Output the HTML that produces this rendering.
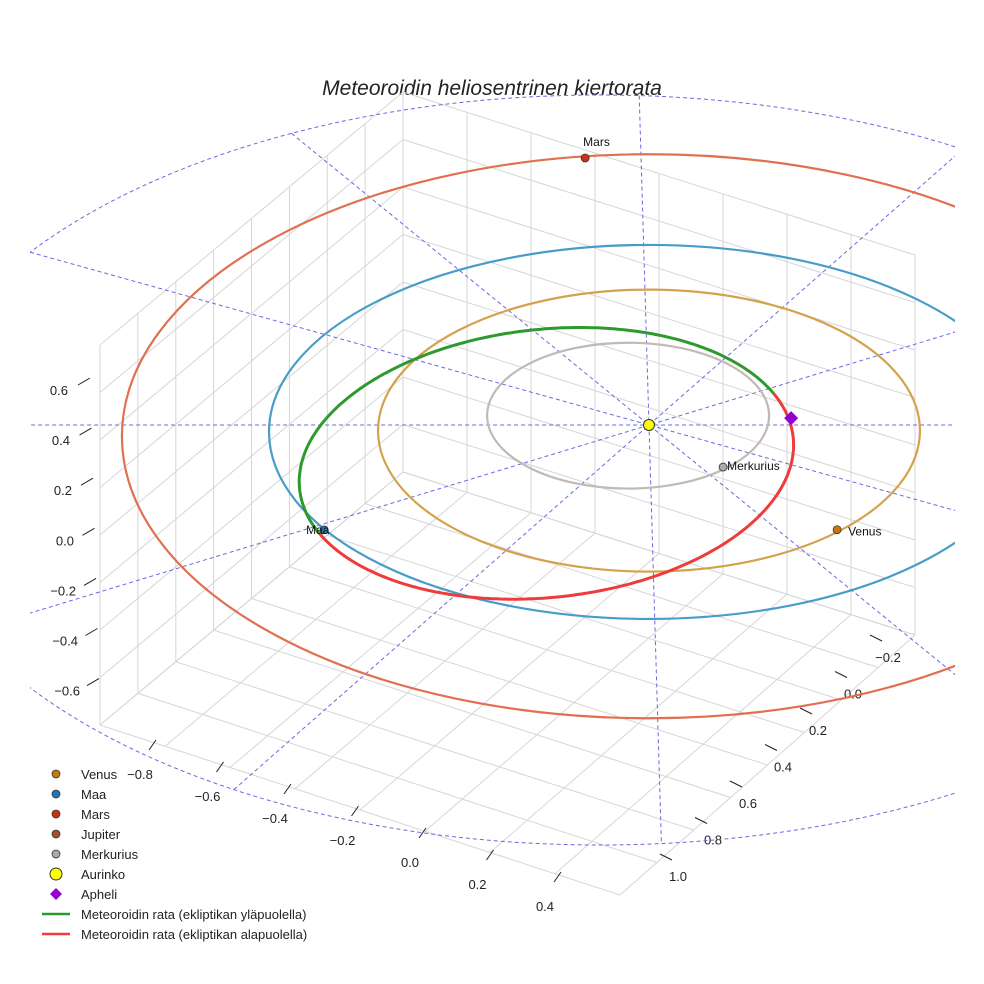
<!DOCTYPE html>
<html><head><meta charset="utf-8"><style>
html,body{margin:0;background:#fff;overflow:hidden;width:984px;height:984px}
svg{display:block;font-family:"Liberation Sans",sans-serif}
</style></head><body>
<svg id="c" width="984" height="984" viewBox="0 0 984 984">
<defs>
<clipPath id="rc"><rect x="30" y="0" width="925" height="984"/></clipPath>
</defs>
<rect width="984" height="984" fill="#fff"/>
<text x="492" y="95" text-anchor="middle" font-size="21" font-style="italic" fill="#222">Meteoroidin heliosentrinen kiertorata</text>
<g id="grid" stroke="#d6d6d6" stroke-width="1" fill="none"></g>
<g id="axes"></g>
<g clip-path="url(#rc)"><g id="dash"></g><g id="orb"></g></g>
<g id="pts"></g>
<g id="leg"></g>
</svg>
<script>
// orbit data in AU (projected view)
const planetNames=["Merkurius","Venus","Maa","Mars"];
const orbitA=[0.371,0.713,1.0,1.387];
const orbitB=[0.39,0.754,1.0,1.508];
const orbitCX=[-0.055,0,0,0];
const orbitCY=[-0.05,0.03,0.037,0.06];
const orbitColors=["#c2b8b4","#d4a24c","#4a9cc8","#e07050"];
const planetX=[0.195,0.495,-0.855,-0.168];
const planetY=[0.225,0.56,0.561,-1.428];
const planetFill=["#b0a8a4","#c87810","#1f77b4","#cc3311"];
const meteorC=[-0.27,0.205];
const meteorAB=[0.653,0.717];
const meteorTilt=-6;
const splitDeg=[160,340];
const apheli=[0.374,-0.037];
const zTicks=["0.6","0.4","0.2","0.0","\u22120.2","\u22120.4","\u22120.6"];
const xTicks=["\u22120.8","\u22120.6","\u22120.4","\u22120.2","0.0","0.2","0.4"];
const yTicks=["\u22120.2","0.0","0.2","0.4","0.6","0.8","1.0"];
const radialDeg=[0,15.6,39.2,88.3,-41.3,-16.9];

const NS="http://www.w3.org/2000/svg";
const OX=649,OY=425,SX=380,SY=187;
const px=x=>OX+SX*x, py=y=>OY+SY*y;
function mk(tag,attrs,parent){const e=document.createElementNS(NS,tag);for(const k in attrs)e.setAttribute(k,attrs[k]);parent.appendChild(e);return e;}
const $=id=>document.getElementById(id);

// grid
const g=$("grid");
const A=[100,725],B=[620,895],C=[915,635],D=[403,472],H=380,N=8;
const lerp=(p,q,t)=>[p[0]+(q[0]-p[0])*t,p[1]+(q[1]-p[1])*t];
const floorPt=(u,v)=>lerp(lerp(D,A,u),lerp(C,B,u),v);
const L=(p,q)=>mk("line",{x1:p[0].toFixed(1),y1:p[1].toFixed(1),x2:q[0].toFixed(1),y2:q[1].toFixed(1)},g);
for(let i=0;i<=N;i++){const t=i/N;
 L(floorPt(t,0),floorPt(t,1)); L(floorPt(0,t),floorPt(1,t));
 const a=floorPt(t,0); L(a,[a[0],a[1]-H]);
 const b=floorPt(0,t); L(b,[b[0],b[1]-H]);
 const h=H*t; L([A[0],A[1]-h],[D[0],D[1]-h]); L([D[0],D[1]-h],[C[0],C[1]-h]);
}

// axes ticks
const ax=$("axes");
zTicks.forEach((t,i)=>{const y=390+i*50.1;mk("line",{x1:78+i*1.5,y1:y-5,x2:90+i*1.5,y2:y-12,stroke:"#222"},ax);const e=mk("text",{x:68+i*2,y:y+5,"text-anchor":"end","font-size":13,fill:"#222"},ax);e.textContent=t;});
xTicks.forEach((t,i)=>{const x=140+i*67.5,y=774+i*22;mk("line",{x1:x+9,y1:y-24,x2:x+16,y2:y-34,stroke:"#222"},ax);const e=mk("text",{x:x,y:y+5,"text-anchor":"middle","font-size":13,fill:"#222"},ax);e.textContent=t;});
yTicks.forEach((t,i)=>{const x=888-i*35,y=657+i*36.5;mk("line",{x1:x-18,y1:y-22,x2:x-6,y2:y-16,stroke:"#222"},ax);const e=mk("text",{x:x,y:y+5,"text-anchor":"middle","font-size":13,fill:"#222"},ax);e.textContent=t;});

// dashed ecliptic lines, ending on outer ellipse
const d=$("dash");
const EX=600,EY=470,ERX=700,ERY=375;
function hit(c,s){const ox=(OX-EX)/ERX,oy=(OY-EY)/ERY,dx=c/ERX,dy=s/ERY;const a=dx*dx+dy*dy,b=2*(ox*dx+oy*dy),cc=ox*ox+oy*oy-1;return (-b+Math.sqrt(b*b-4*a*cc))/(2*a);}
radialDeg.forEach(a=>{const r=a*Math.PI/180,c=Math.cos(r),s=Math.sin(r);const t1=hit(c,s),t2=hit(-c,-s);
const l=mk("line",{x1:(OX-t2*c).toFixed(1),y1:(OY-t2*s).toFixed(1),x2:(OX+t1*c).toFixed(1),y2:(OY+t1*s).toFixed(1),stroke:"#6a6ae0","stroke-width":1,"stroke-dasharray":"4,3"},d);});
mk("ellipse",{cx:EX,cy:EY,rx:ERX,ry:ERY,fill:"none",stroke:"#6a6ae0","stroke-dasharray":"4,3"},d);

// orbits
const o=$("orb");
planetNames.forEach((n,i)=>{const e=mk("ellipse",{cx:px(orbitCX[i]),cy:py(orbitCY[i]),rx:SX*orbitA[i],ry:SY*orbitB[i],fill:"none",stroke:orbitColors[i],"stroke-width":2.2},o);});
function arc(a0,a1,col,name){let s="";const th=meteorTilt*Math.PI/180,cx=px(meteorC[0]),cy=py(meteorC[1]);
for(let a=a0;a<=a1;a+=1){const r=a*Math.PI/180;const x=SX*meteorAB[0]*Math.cos(r),y=SY*meteorAB[1]*Math.sin(r);
const X=cx+x*Math.cos(th)-y*Math.sin(th),Y=cy+x*Math.sin(th)+y*Math.cos(th);s+=(s?"L":"M")+X.toFixed(1)+","+Y.toFixed(1);}
const p=mk("path",{d:s,fill:"none",stroke:col,"stroke-width":3},o);}
arc(splitDeg[0],splitDeg[1],"#2e9a2e","meteoroid-orbit-above");
arc(splitDeg[1]-360,splitDeg[0],"#ee3b3b","meteoroid-orbit-below");

// points
const p=$("pts");
planetNames.forEach((n,i)=>{const x=px(planetX[i]),y=py(planetY[i]);const c=mk("circle",{cx:x,cy:y,r:4,fill:planetFill[i],stroke:"#333","stroke-width":0.8},p);
const t=mk("text",{"font-size":12,fill:"#111"},p);t.textContent=n;
if(n==="Mars"){t.setAttribute("x",x-2);t.setAttribute("y",y-12);}else if(n==="Maa"){t.setAttribute("x",x-18);t.setAttribute("y",y+4);}else if(n==="Venus"){t.setAttribute("x",x+11);t.setAttribute("y",y+6);}else{t.setAttribute("x",x+4);t.setAttribute("y",y+3);}
});
const sun=mk("circle",{cx:px(0),cy:py(0),r:5.5,fill:"#ffff00",stroke:"#333"},p);
const ax0=px(apheli[0]),ay0=py(apheli[1]);
const ap=mk("polygon",{points:`${ax0},${ay0-7} ${ax0+7},${ay0} ${ax0},${ay0+7} ${ax0-7},${ay0}`,fill:"#9400d3"},p);

// legend
const lg=$("leg");
const legLabels=["Venus","Maa","Mars","Jupiter","Merkurius","Aurinko","Apheli","Meteoroidin rata (ekliptikan yläpuolella)","Meteoroidin rata (ekliptikan alapuolella)"];
const legColors=["#c87810","#1f77b4","#cc3311","#a0522d","#b0a8a4","#ffff00","#9400d3","#2e9a2e","#ee3b3b"];
legLabels.forEach((l,i)=>{const y=774+i*20;let m;
if(i<5)m=mk("circle",{cx:56,cy:y,r:4,fill:legColors[i],stroke:"#333","stroke-width":0.8},lg);
else if(i===5)m=mk("circle",{cx:56,cy:y,r:6,fill:legColors[i],stroke:"#333"},lg);
else if(i===6)m=mk("polygon",{points:`56,${y-6} 62,${y} 56,${y+6} 50,${y}`,fill:legColors[i]},lg);
else m=mk("line",{x1:42,y1:y,x2:70,y2:y,stroke:legColors[i],"stroke-width":2.5},lg);

const t=mk("text",{x:81,y:y+5,"font-size":13,fill:"#222"},lg);t.textContent=l;});
</script>
</body></html>
